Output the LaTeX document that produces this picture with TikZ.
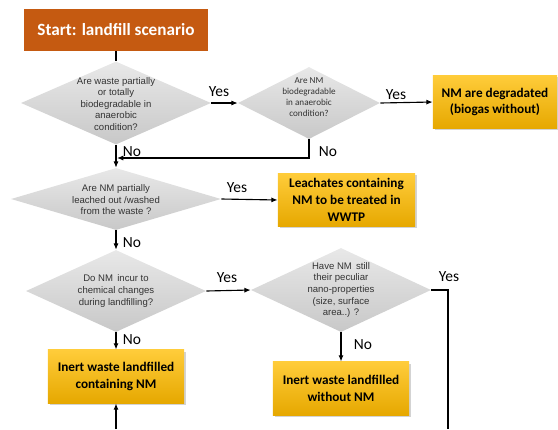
\documentclass[tikz,border=0pt]{standalone}
\usepackage{fontspec}
\setmainfont{Carlito}
\newfontfamily\arialf{Liberation Sans}
\usepackage{xcolor}
\usepackage{tikz}
\usetikzlibrary{shapes.geometric, arrows.meta, shadows}

\definecolor{startorange}{RGB}{197,90,17}
\definecolor{boxtop}{RGB}{255,204,58}
\definecolor{boxbot}{RGB}{230,168,0}
\definecolor{asktop}{RGB}{232,232,232}
\definecolor{askbot}{RGB}{200,200,200}

\begin{document}
\begin{tikzpicture}[
  x=0.025cm, y=-0.025cm,
  start/.style={rectangle, fill=startorange, text=white, minimum width=4.6cm, minimum height=1.05cm, font=\fontsize{12.2}{14}\selectfont\bfseries},
  result/.style={rectangle, top color=boxtop, bottom color=boxbot, minimum width=3.4cm, minimum height=1.33cm, align=center, font=\fontsize{9.4}{12}\selectfont\bfseries, drop shadow={opacity=0.35, shadow xshift=1.2pt, shadow yshift=-1.2pt}},
  ask/.style={diamond, top color=asktop, bottom color=askbot, inner sep=0pt},
  asktext/.style={align=center, inner sep=0pt, text=black!80, font=\arialf\fontsize{6.8}{8.2}\selectfont},
  lbl/.style={inner sep=0pt, font=\fontsize{11}{13}\selectfont},
  arrow/.style={-{Latex[length=4.5pt, width=3.6pt]}, line width=0.8pt},
  link/.style={line width=0.8pt}
]
\useasboundingbox (0,0) rectangle (558,429);

% questions
\node[ask, minimum width=4.75cm, minimum height=2.075cm] (q1) at (116,103) {};
\node[asktext] (q1t) at (116,104) {Are waste partially\\or totally\\biodegradable in\\anaerobic\\condition?};
\node[ask, minimum width=3.55cm, minimum height=1.8cm] (q2) at (309,103) {};
\node[asktext, font=\fontsize{6.5}{7.8}\selectfont] (q2t) at (309,97) {Are NM\\biodegradable\\in anaerobic\\condition?};
\node[ask, minimum width=5.25cm, minimum height=1.55cm] (q3) at (116,199) {};
\node[asktext] (q3t) at (116,200) {Are NM partially\\leached out /washed\\from the waste ?};
\node[ask, minimum width=4.5cm, minimum height=2.05cm] (q4) at (116,291) {};
\node[asktext] (q4t) at (116,291) {Do NM\, incur to\\chemical changes\\during landfilling?};
\node[ask, minimum width=4.5cm, minimum height=2.1cm] (q5) at (341,290) {};
\node[asktext] (q5t) at (341,290) {Have NM\, still\\their peculiar\\nano-properties\\(size, surface\\area..) ?};

% outcomes
\node[start] (st) at (116,30) {Start: landfill scenario};
\node[result, minimum width=3.1cm] (deg) at (495,102) {NM are degradated\\(biogas without)};
\node[result, minimum width=3.425cm] (leach) at (346.5,200) {Leachates containing\\NM to be treated in\\WWTP};
\node[result] (inA) at (116,376.5) {Inert waste landfilled\\containing NM};
\node[result] (inB) at (341,388.5) {Inert waste landfilled\\without NM};

% free ends
\coordinate (j1) at (117,158);
\coordinate (e1) at (448,429);
\coordinate (e2) at (116,429);

\draw[link] (st) -- (q1);
\draw[arrow] (q1.east) -- (q2.west);
\draw[arrow] (q2.east) -- (deg.west);
\draw[arrow] (q2.south) |- (j1);
\draw[arrow] (q1.south) -- (q3.north);
\draw[arrow] (q3.east) -- (leach.west);
\draw[arrow] (q3.south) -- (q4.north);
\draw[arrow] (q4.east) -- (q5.west);
\draw[arrow] (q4.south) -- (inA.north);
\draw[arrow] (q5.south) -- (inB.north);
\draw[link] (q5.east) -| (e1);
\draw[arrow] (e2) -- (inA.south);

% yes / no
\node[lbl] (y1) at (219,92) {Yes};
\node[lbl] (y2) at (396,95) {Yes};
\node[lbl] (n2) at (328,152) {No};
\node[lbl] (n1) at (132,152) {No};
\node[lbl] (y3) at (237,188) {Yes};
\node[lbl] (n3) at (132,243) {No};
\node[lbl] (y4) at (227,278) {Yes};
\node[lbl] (n4) at (132,340) {No};
\node[lbl] (y5) at (449,277) {Yes};
\node[lbl] (n5) at (363,345) {No};
\end{tikzpicture}
\end{document}
